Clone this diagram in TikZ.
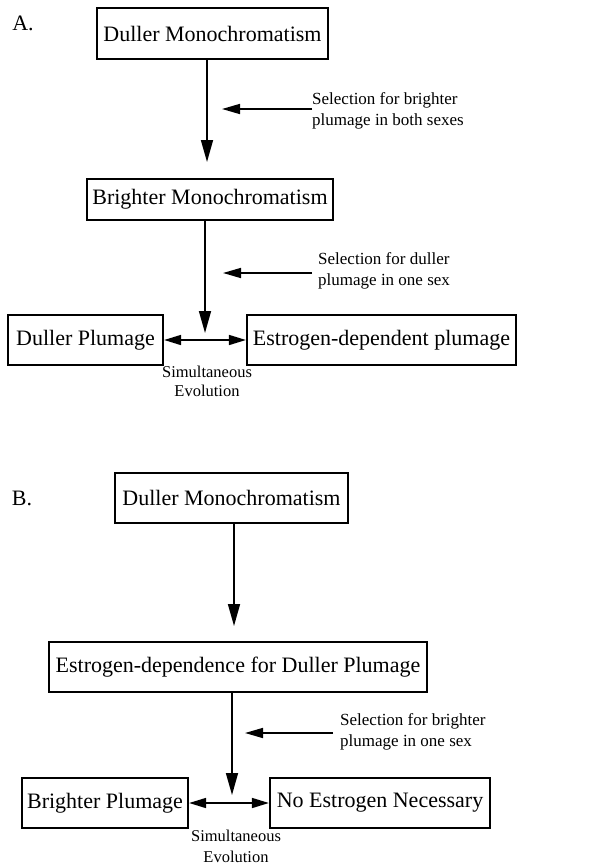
\documentclass[tikz,border=0pt]{standalone}
\usepackage{fontspec}
\setmainfont{Liberation Serif}
\usetikzlibrary{arrows.meta}
\begin{document}
\begin{tikzpicture}[x=1pt,y=-1pt,
  box/.style={draw,line width=2.2pt,inner sep=0pt,font=\fontsize{22}{26}\selectfont},
  lbl/.style={inner sep=0pt,align=left,anchor=west,font=\fontsize{17}{21.5}\selectfont},
  evo/.style={inner sep=0pt,align=center,font=\fontsize{16.5}{19}\selectfont},
  vline/.style={line width=1.6pt,-{Triangle[length=22pt,width=12pt]}},
  sline/.style={line width=1.6pt,-{Triangle[length=18pt,width=10pt]}},
  dline/.style={line width=1.6pt,{Triangle[length=17pt,width=10pt]}-{Triangle[length=17pt,width=10pt]}}]
\useasboundingbox (0,0) rectangle (589,867);
% Part A
\node[inner sep=0pt,font=\fontsize{22}{26}\selectfont] (labA) at (23,23) {A.};
\node[box,minimum width=231pt,minimum height=51pt] (a1) at (212.5,33.5) {Duller Monochromatism};
\node[box,minimum width=246pt,minimum height=41pt] (a2) at (210,199.5) {Brighter Monochromatism};
\node[box,minimum width=155pt,minimum height=50pt] (a3) at (85.5,340) {Duller Plumage};
\node[box,minimum width=269pt,minimum height=50pt] (a4) at (381.5,340) {Estrogen-dependent plumage};
\coordinate (ta1) at (207,162);
\coordinate (ta2) at (205,333);
\draw[vline] (a1.south -| ta1) -- (ta1);
\draw[vline] (a2.south -| ta2) -- (ta2);
\node[lbl] (sa1) at (312,111) {Selection for brighter\\plumage in both sexes};
\node[lbl] (sa2) at (318,271) {Selection for duller\\plumage in one sex};
\coordinate (ha1) at (222,109);
\coordinate (ha2) at (223,273);
\draw[sline] (sa1.west |- ha1) -- (ha1);
\draw[sline] ([xshift=-6pt]sa2.west |- ha2) -- (ha2);
\draw[dline] (a3.east) -- (a4.west);
\node[evo] (ea) at (207,381.5) {Simultaneous\\Evolution};
% Part B
\node[inner sep=0pt,font=\fontsize{22}{26}\selectfont] (labB) at (22,498) {B.};
\node[box,minimum width=233pt,minimum height=50pt] (b1) at (231.5,498) {Duller Monochromatism};
\node[box,minimum width=378pt,minimum height=50pt] (b2) at (238,667) {Estrogen-dependence for Duller Plumage};
\node[box,minimum width=166pt,minimum height=50pt] (b3) at (105,803) {Brighter Plumage};
\node[box,minimum width=220pt,minimum height=50pt] (b4) at (380,803) {No Estrogen Necessary};
\coordinate (tb1) at (234,626);
\coordinate (tb2) at (232,795);
\draw[vline] (b1.south -| tb1) -- (tb1);
\draw[vline] (b2.south -| tb2) -- (tb2);
\node[lbl,font=\fontsize{17}{20.5}\selectfont] (sb) at (340,732) {Selection for brighter\\plumage in one sex};
\coordinate (hb) at (245,733);
\draw[sline] ([xshift=-7pt]sb.west |- hb) -- (hb);
\draw[dline] (b3.east) -- (b4.west);
\node[evo,font=\fontsize{16.5}{21}\selectfont] (eb) at (236,846) {Simultaneous\\Evolution};
\end{tikzpicture}
\end{document}
